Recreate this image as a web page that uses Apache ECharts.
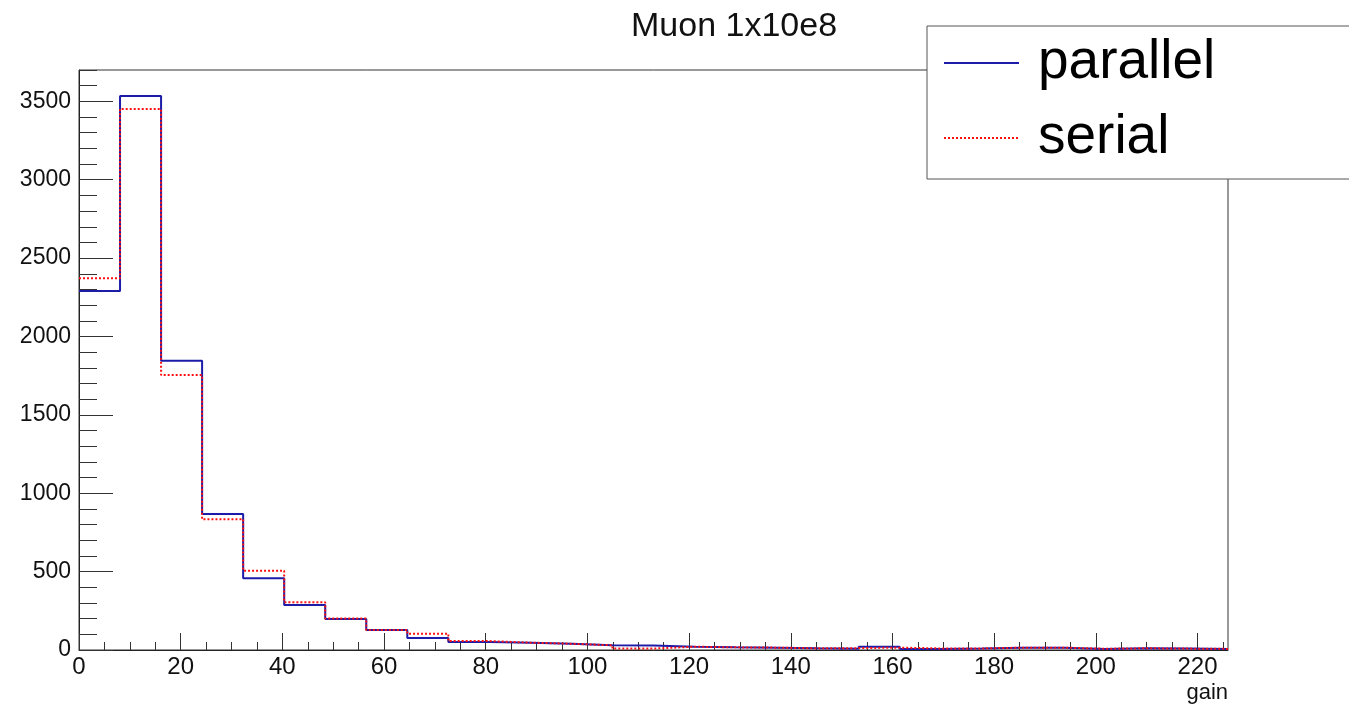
<!DOCTYPE html>
<html>
<head>
    <meta charset="utf-8">
    <title>Muon 1x10e8</title>
    <script src="https://cdn.jsdelivr.net/npm/echarts@6/dist/echarts.min.js"></script>
    <style>
        html, body { margin: 0; padding: 0; background: #fff; }
        #chart { width: 1349px; height: 704px; }
    </style>
</head>
<body>
<div id="chart"></div>
<script>
    // histogram: 28 bins from 0 to 226 (gain)
    var X_MAX = 226;
    var Y_MAX = 3700;
    var parallelCounts = [2290, 3534, 1845, 867, 457, 287, 198, 128, 77, 51, 47, 40, 30, 29,
        21, 17, 15, 11, 8, 21, 6, 10, 15, 15, 6, 11, 9, 7];
    var serialCounts = [2371, 3451, 1754, 834, 506, 304, 201, 128, 104, 57, 47, 40, 30, 9,
        21, 17, 15, 11, 12, 15, 10, 10, 15, 15, 8, 11, 9, 7];
    var xMajorTicks = [0, 20, 40, 60, 80, 100, 120, 140, 160, 180, 200, 220];
    var yMajorTicks = [0, 500, 1000, 1500, 2000, 2500, 3000, 3500];

    var FONT = '"Liberation Sans", Arial, Helvetica, sans-serif';
    var binWidth = X_MAX / parallelCounts.length;

    var xMinorTicks = [];
    for (var t = 5; t < X_MAX; t += 5) xMinorTicks.push(t);
    var yMinorTicks = [];
    for (var u = 100; u <= Y_MAX; u += 100) yMinorTicks.push(u);

    // step points: left edge of every bin, then the right edge of the last bin
    function stepPoints(counts) {
        var pts = [];
        for (var i = 0; i < counts.length; i++) {
            pts.push([i * binWidth, counts[i]]);
        }
        pts.push([X_MAX, counts[counts.length - 1]]);
        return pts;
    }

    function plain(v) { return String(v); }

    var chart = echarts.init(document.getElementById('chart'));

    var option = {
        animation: false,
        backgroundColor: '#fff',
        title: {
            text: 'Muon 1x10e8',
            left: 626,
            top: 5,
            textStyle: { fontFamily: FONT, fontSize: 34, fontWeight: 'normal', color: '#111' }
        },
        legend: {
            data: ['parallel', 'serial'],
            orient: 'vertical',
            left: 927,
            top: 26,
            padding: [7, 300, 11, 16],
            itemWidth: 75,
            itemHeight: 2,
            itemGap: 15,
            itemStyle: { opacity: 0 },
            backgroundColor: '#fff',
            borderColor: '#555',
            borderWidth: 1,
            textStyle: { fontFamily: FONT, fontSize: 55, lineHeight: 60, color: '#000', padding: [0, 0, 0, 14] }
        },
        grid: {
            left: 79,
            right: 121,
            top: 70,
            bottom: 54,
            show: true,
            borderColor: '#333',
            borderWidth: 1
        },
        xAxis: [{
            type: 'value',
            min: 0,
            max: X_MAX,
            position: 'bottom',
            name: 'gain',
            nameLocation: 'end',
            nameGap: 0,
            nameTextStyle: { fontFamily: FONT, fontSize: 22, color: '#111', align: 'right', verticalAlign: 'top', padding: [32, 0, 0, 0] },
            axisLine: { show: true, lineStyle: { color: '#222', width: 1 } },
            axisTick: { show: true, inside: true, length: 17, customValues: xMajorTicks, lineStyle: { color: '#333' } },
            axisLabel: { customValues: xMajorTicks, formatter: plain, fontFamily: FONT, fontSize: 24, color: '#111', margin: 5 },
            splitLine: { show: false }
        }, {
            type: 'value',
            min: 0,
            max: X_MAX,
            position: 'bottom',
            axisLine: { show: false },
            axisTick: { show: true, inside: true, length: 8, customValues: xMinorTicks, lineStyle: { color: '#333' } },
            axisLabel: { show: false },
            splitLine: { show: false }
        }],
        yAxis: [{
            type: 'value',
            min: 0,
            max: Y_MAX,
            position: 'left',
            axisLine: { show: true, lineStyle: { color: '#222', width: 1 } },
            axisTick: { show: true, inside: true, length: 34, customValues: yMajorTicks, lineStyle: { color: '#333' } },
            axisLabel: { customValues: yMajorTicks, formatter: plain, fontFamily: FONT, fontSize: 23, color: '#111', margin: 8 },
            splitLine: { show: false }
        }, {
            type: 'value',
            min: 0,
            max: Y_MAX,
            position: 'left',
            axisLine: { show: false },
            axisTick: { show: true, inside: true, length: 18, customValues: yMinorTicks, lineStyle: { color: '#333' } },
            axisLabel: { show: false },
            splitLine: { show: false }
        }],
        series: [{
            name: 'parallel',
            type: 'line',
            step: 'end',
            xAxisIndex: 0,
            yAxisIndex: 0,
            symbol: 'none',
            data: stepPoints(parallelCounts),
            lineStyle: { color: '#1c1ca8', width: 2 },
            itemStyle: { color: '#1c1ca8' },
            z: 2
        }, {
            name: 'serial',
            type: 'line',
            step: 'end',
            xAxisIndex: 0,
            yAxisIndex: 0,
            symbol: 'none',
            data: stepPoints(serialCounts),
            lineStyle: { color: '#ff1010', width: 2, type: [2, 2] },
            itemStyle: { color: '#ff1010' },
            z: 3
        }]
    };

    chart.setOption(option);
</script>
</body>
</html>
